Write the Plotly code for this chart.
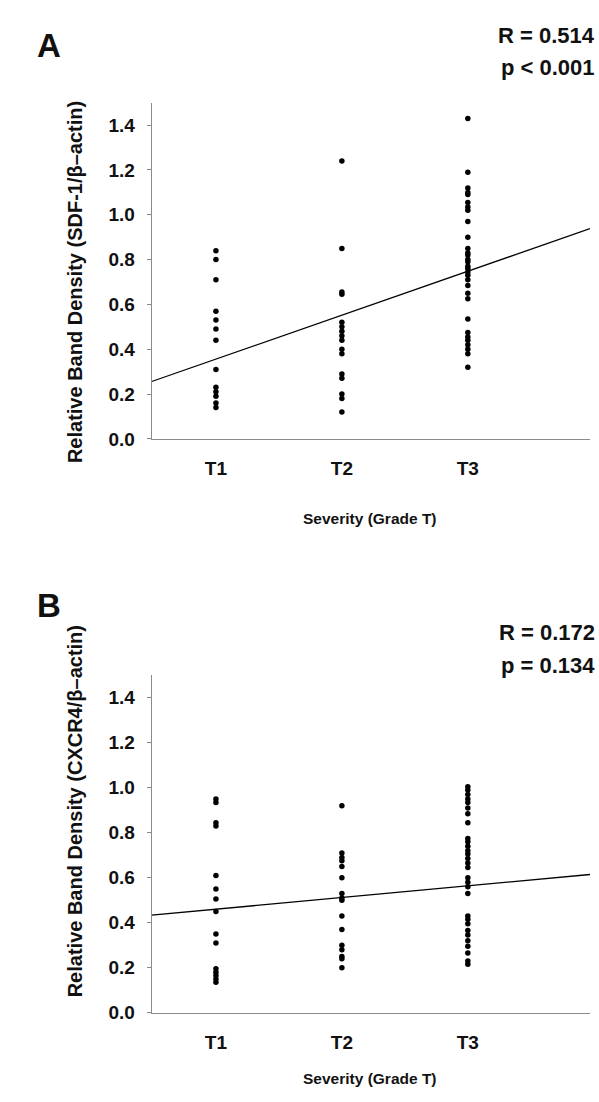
import plotly.graph_objects as go

# ---- data ----
grades = ["T1", "T2", "T3"]
grade_pos = [1, 2, 3]

sdf1_T1 = [0.84, 0.80, 0.71, 0.57, 0.53, 0.49, 0.44, 0.31, 0.23, 0.21, 0.19, 0.16, 0.14]
sdf1_T2 = [1.24, 0.85, 0.655, 0.645, 0.52, 0.50, 0.48, 0.46, 0.44, 0.40, 0.38, 0.29, 0.27, 0.20, 0.18, 0.12]
sdf1_T3 = [1.43, 1.19, 1.12, 1.10, 1.09, 1.055, 1.035, 1.02, 0.97, 0.90, 0.85, 0.83, 0.82, 0.80,
           0.79, 0.77, 0.76, 0.745, 0.73, 0.71, 0.685, 0.65, 0.625, 0.535, 0.475, 0.455, 0.44,
           0.42, 0.40, 0.38, 0.32]

cxcr4_T1 = [0.95, 0.935, 0.845, 0.83, 0.61, 0.55, 0.505, 0.45, 0.35, 0.31, 0.195, 0.18, 0.165, 0.15, 0.135]
cxcr4_T2 = [0.92, 0.71, 0.69, 0.675, 0.65, 0.60, 0.53, 0.51, 0.50, 0.43, 0.37, 0.30, 0.28, 0.25, 0.24, 0.20]
cxcr4_T3 = [1.005, 0.99, 0.97, 0.95, 0.935, 0.91, 0.885, 0.845, 0.775, 0.76, 0.74, 0.72, 0.705,
            0.685, 0.665, 0.645, 0.60, 0.58, 0.56, 0.53, 0.43, 0.415, 0.395, 0.365, 0.345, 0.32,
            0.295, 0.265, 0.23, 0.215]

# regression lines: [intercept, slope] per grade
fit_A = [0.16, 0.196]
fit_B = [0.408, 0.052]
x_range = [0.49, 3.97]

stats_A = ["R = 0.514", "p < 0.001"]
stats_B = ["R = 0.172", "p = 0.134"]
ylabel_A = "Relative Band Density (SDF-1/β–actin)"
ylabel_B = "Relative Band Density (CXCR4/β–actin)"
xlabel = "Severity (Grade T)"
yticks = [0.0, 0.2, 0.4, 0.6, 0.8, 1.0, 1.2, 1.4]

FONT = "Liberation Sans, Arial, sans-serif"
INK = "#111111"

fig = go.Figure()

def add_panel(groups, fit, xa, ya):
    for pos, vals in zip(grade_pos, groups):
        fig.add_trace(go.Scatter(
            x=[pos] * len(vals), y=vals, mode="markers",
            marker=dict(color="black", size=5.5),
            xaxis=xa, yaxis=ya, showlegend=False, hoverinfo="y"))
    fig.add_trace(go.Scatter(
        x=x_range, y=[fit[0] + fit[1] * x for x in x_range], mode="lines",
        line=dict(color="black", width=1.3),
        xaxis=xa, yaxis=ya, showlegend=False, hoverinfo="skip"))

add_panel([sdf1_T1, sdf1_T2, sdf1_T3], fit_A, "x", "y")
add_panel([cxcr4_T1, cxcr4_T2, cxcr4_T3], fit_B, "x2", "y2")

# the page margin is removed below, so the figure fills the window exactly
W, H = 599, 1102
KY = 1.0105  # small vertical correction to line up with the reference

def px(x):
    return x / W

def py(y):
    return 1 - (y * KY) / H

xdom = [px(151.7), px(590)]
ydomA = [py(438.7), py(102.7)]
ydomB = [py(1012.3), py(675)]

xax = dict(range=x_range, tickmode="array", tickvals=grade_pos,
           ticktext=[f"<b>{g}</b>" for g in grades],
           showline=True, linecolor="#8a8a8a", linewidth=1.2, ticks="", showgrid=False,
           zeroline=False, tickfont=dict(family=FONT, size=19, color=INK),
           ticklabelstandoff=12, domain=xdom, fixedrange=True)
yax = dict(range=[0, 1.5], tickmode="array", tickvals=yticks,
           ticktext=[f"<b>{v:.1f}</b>" for v in yticks],
           showline=True, linecolor="#8a8a8a", linewidth=1.2, ticks="outside",
           ticklen=4, tickcolor="#8a8a8a", showgrid=False, zeroline=False,
           tickfont=dict(family=FONT, size=19, color=INK), ticklabelstandoff=8,
           fixedrange=True)

fig.update_layout(
    width=W, height=H, margin=dict(l=0, r=0, t=0, b=0),
    paper_bgcolor="white", plot_bgcolor="white",
    xaxis=dict(xax, anchor="y"),
    yaxis=dict(yax, domain=ydomA, anchor="x"),
    xaxis2=dict(xax, anchor="y2"),
    yaxis2=dict(yax, domain=ydomB, anchor="x2"),
)

def ann(text, x, y, size, xanchor="center", yanchor="middle", angle=0):
    fig.add_annotation(text=text, x=px(x), y=py(y), xref="paper", yref="paper",
                       showarrow=False, xanchor=xanchor, yanchor=yanchor, textangle=angle,
                       font=dict(family=FONT, size=size, color=INK))

# panel A texts
ann("<b>A</b>", 35, 45, 33, xanchor="left")
ann(f"<b>{stats_A[0]}</b>", 597, 35, 22, xanchor="right")
ann(f"<b>{stats_A[1]}</b>", 597, 67, 22, xanchor="right")
ann(f"<b>{ylabel_A}</b>", 75, 282, 20, angle=-90)
ann(f"<b>{xlabel}</b>", 370, 518, 15.5)

# panel B texts
ann("<b>B</b>", 35, 605, 33, xanchor="left")
ann(f"<b>{stats_B[0]}</b>", 597, 632, 22, xanchor="right")
ann(f"<b>{stats_B[1]}</b>", 597, 665, 22, xanchor="right")
ann(f"<b>{ylabel_B}</b>", 75, 811, 20, angle=-90)
ann(f"<b>{xlabel}</b>", 370, 1078, 15.5)

page_css = (
    "document.documentElement.style.margin='0';"
    "document.documentElement.style.overflow='hidden';"
    "document.body.style.margin='0';"
    "document.body.style.overflow='hidden';"
)
fig.write_html("out.html", post_script=page_css, config={"displayModeBar": False})
